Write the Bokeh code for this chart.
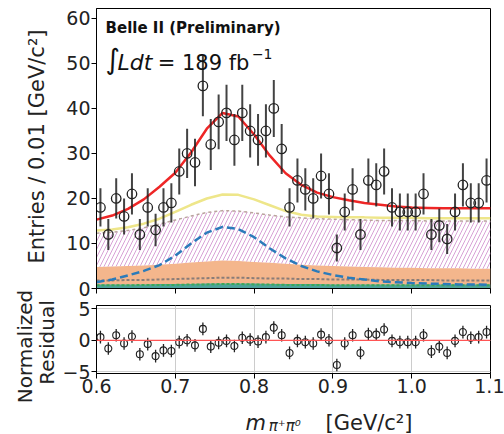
import math
from bokeh.plotting import figure
from bokeh.models import Label, FixedTicker, Range1d, Span
from bokeh.layouts import column, row
from bokeh.embed import file_html
from bokeh.resources import INLINE

# ---------------- data ----------------
mass = [0.605, 0.615, 0.625, 0.635, 0.645, 0.655, 0.665, 0.675, 0.685, 0.695,
        0.705, 0.715, 0.725, 0.735, 0.745, 0.755, 0.765, 0.775, 0.785, 0.795,
        0.805, 0.815, 0.825, 0.835, 0.845, 0.855, 0.865, 0.875, 0.885, 0.895,
        0.905, 0.915, 0.925, 0.935, 0.945, 0.955, 0.965, 0.975, 0.985, 0.995,
        1.005, 1.015, 1.025, 1.035, 1.045, 1.055, 1.065, 1.075, 1.085, 1.095]
counts = [18, 12, 20, 16, 21, 12, 18, 13, 18, 19,
          26, 30, 28, 45, 32, 37, 39, 33, 39, 35,
          33, 35, 40, 31, 18, 24, 22, 20, 25, 21,
          9, 17, 22, 12, 24, 23, 26, 18, 17, 17,
          17, 21, 12, 14, 11, 17, 23, 19, 19, 24]
residuals = [0.5, -1.3, 0.8, -0.5, 0.6, -2.2, -0.6, -2.5, -1.6, -1.7,
             -0.3, 0.0, -0.8, 1.8, -1.0, -0.4, -0.1, -0.9, 0.4, 0.1,
             -0.2, 0.5, 2.0, 0.8, -2.0, -0.1, -0.3, -0.5, 0.9, 0.0,
             -3.9, -0.5, 0.8, -2.0, 1.0, 0.9, 1.7, -0.1, -0.3, -0.3,
             -0.3, 0.8, -1.8, -1.0, -2.0, -0.1, 1.3, 0.4, 0.5, 1.3]

curve_mass = [0.60, 0.62, 0.64, 0.66, 0.68, 0.70, 0.72, 0.74, 0.76, 0.78,
              0.80, 0.82, 0.84, 0.86, 0.88, 0.90, 0.92, 0.94, 0.96, 0.98,
              1.00, 1.02, 1.04, 1.06, 1.08, 1.10]
total_fit = [15.3, 16.2, 17.7, 19.8, 22.6, 25.7, 30.2, 35.5, 39.0, 38.2,
             34.2, 29.5, 25.6, 23.0, 21.3, 20.3, 19.6, 19.0, 18.6, 18.2,
             18.0, 17.9, 17.8, 17.8, 17.8, 17.8]
yellow_comp = [12.9, 13.1, 13.6, 14.4, 15.5, 17.0, 18.6, 20.0, 20.9, 20.8,
               19.8, 18.5, 17.2, 16.4, 16.0, 15.9, 15.8, 15.8, 15.7, 15.7,
               15.7, 15.6, 15.6, 15.6, 15.6, 15.6]
hatch_top = [12.3, 12.5, 12.9, 13.5, 14.3, 15.2, 16.1, 16.9, 17.3, 17.2,
             16.8, 16.3, 15.9, 15.7, 15.5, 15.4, 15.3, 15.2, 15.1, 15.1,
             15.1, 15.0, 15.0, 15.0, 15.0, 15.0]
orange_top = [4.8, 4.9, 5.0, 5.1, 5.3, 5.5, 5.8, 6.0, 6.2, 6.1,
              5.9, 5.7, 5.5, 5.3, 5.1, 5.0, 4.9, 4.8, 4.7, 4.6,
              4.6, 4.5, 4.5, 4.5, 4.4, 4.4]
teal_top = [0.9, 0.9, 0.9, 0.9, 1.0, 1.0, 1.0, 1.1, 1.1, 1.1,
            1.1, 1.0, 1.0, 1.0, 1.0, 0.9, 0.9, 0.9, 0.9, 0.9,
            0.9, 0.9, 0.9, 0.9, 0.9, 0.9]
signal_comp = [1.4, 2.0, 2.9, 3.9, 5.2, 7.3, 10.0, 12.4, 13.7, 13.2,
               11.4, 8.9, 6.7, 5.0, 3.8, 3.0, 2.4, 2.0, 1.6, 1.4,
               1.2, 1.1, 1.0, 0.9, 0.9, 0.8]
gray_comp = [1.8, 1.8, 1.9, 1.9, 2.0, 2.1, 2.2, 2.3, 2.4, 2.4,
             2.3, 2.2, 2.2, 2.1, 2.1, 2.0, 2.0, 2.0, 1.9, 1.9,
             1.9, 1.9, 1.8, 1.8, 1.8, 1.8]
green_comp = [0.7, 0.7, 0.7, 0.8, 0.8, 0.8, 0.9, 0.9, 1.0, 1.0,
              0.9, 0.9, 0.8, 0.8, 0.8, 0.7, 0.7, 0.7, 0.7, 0.7,
              0.7, 0.7, 0.7, 0.7, 0.7, 0.7]

x_ticks = [0.6, 0.7, 0.8, 0.9, 1.0, 1.1]
x_tick_labels = ["0.6", "0.7", "0.8", "0.9", "1.0", "1.1"]
y_ticks = [0, 10, 20, 30, 40, 50, 60]
res_ticks = [-5, 0, 5]
res_tick_labels = ["\u22125", "0", "5"]

err = [math.sqrt(c) for c in counts]
lo = [c - e for c, e in zip(counts, err)]
hi = [c + e for c, e in zip(counts, err)]
rlo = [v - 1 for v in residuals]
rhi = [v + 1 for v in residuals]

FONT = "DejaVu Sans"
TXT = "#222222"
LW = 58                      # width of the left title strip
LEFT, RIGHT, FW = 96 - LW, 14, 394
TOTAL_H = 433
XF_H = 33

# ---------------- main panel ----------------
p = figure(frame_width=FW, frame_height=280, x_range=Range1d(0.6, 1.1), y_range=Range1d(0, 62.2),
           output_backend="svg", toolbar_location=None,
           min_border_left=LEFT, min_border_right=RIGHT, min_border_top=8, min_border_bottom=10)
p.grid.visible = False
p.outline_line_color = "black"
p.outline_line_alpha = 1.0

p.varea(x=curve_mass, y1=0, y2=orange_top, fill_color="#f4b68c")
p.varea(x=curve_mass, y1=0, y2=teal_top, fill_color="#4ea39c")
p.varea(x=curve_mass, y1=orange_top, y2=hatch_top, fill_color=None,
        hatch_pattern="/", hatch_color="#d8a2d6", hatch_scale=8, hatch_weight=1)
p.line(curve_mass, hatch_top, line_color="#b9a49c", line_dash="3 3", line_width=1.5)
p.line(curve_mass, yellow_comp, line_color="#eee68a", line_width=2.5)
p.line(curve_mass, gray_comp, line_color="#8a7d78", line_dash="3 2", line_width=2)
p.line(curve_mass, green_comp, line_color="#3aa858", line_dash="3 2", line_width=2)
p.line(curve_mass, signal_comp, line_color="#2b7bba", line_dash="8 4", line_width=2.5)
p.line(curve_mass, total_fit, line_color="#ee2626", line_width=2.5)

p.segment(x0=mass, y0=lo, x1=mass, y1=hi, line_color="#222222", line_width=2, line_alpha=0.85)
p.scatter(mass, counts, marker="circle", size=9.5, fill_color=None,
          line_color="#222222", line_width=1.3)

p.xaxis.ticker = FixedTicker(ticks=x_ticks)
p.xaxis.major_label_text_font_size = "1px"
p.xaxis.major_label_text_color = None
p.xaxis.major_label_standoff = 0
p.xaxis.major_tick_in = 0
p.xaxis.major_tick_out = 5
p.xaxis.minor_tick_line_color = None

p.yaxis.ticker = FixedTicker(ticks=y_ticks)
p.yaxis.major_tick_in = 0
p.yaxis.major_tick_out = 5
p.yaxis.minor_tick_line_color = None
p.yaxis.major_label_text_font = FONT
p.yaxis.major_label_text_font_size = "19px"
p.yaxis.major_label_text_color = TXT
p.yaxis.major_label_standoff = 1

p.add_layout(Label(x=0.6115, y=57.97, text="Belle II (Preliminary)", text_font=FONT,
                   text_font_size="15px", text_font_style="bold", text_color="#111111",
                   text_baseline="alphabetic"))
p.add_layout(Label(x=0.6115, y=50.9, text="\u222b", text_font=FONT,
                   text_font_size="28px", text_color="#111111", text_baseline="alphabetic"))
p.add_layout(Label(x=0.6267, y=50.2, text="Ldt", text_font=FONT, text_font_style="italic",
                   text_font_size="22px", text_color="#111111", text_baseline="alphabetic"))
p.add_layout(Label(x=0.6776, y=50.2, text="= 189 fb", text_font=FONT,
                   text_font_size="21px", text_color="#111111", text_baseline="alphabetic"))
p.add_layout(Label(x=0.7972, y=52.2, text="\u22121", text_font=FONT,
                   text_font_size="14px", text_color="#111111", text_baseline="alphabetic"))

# ---------------- residual panel ----------------
r = figure(frame_width=FW, frame_height=68, x_range=p.x_range, y_range=Range1d(-5.25, 5.5),
           output_backend="svg", toolbar_location=None,
           min_border_left=LEFT, min_border_right=RIGHT, min_border_top=7, min_border_bottom=27)
r.outline_line_color = "black"
r.outline_line_alpha = 1.0
r.xgrid.ticker = FixedTicker(ticks=x_ticks)
r.ygrid.ticker = FixedTicker(ticks=res_ticks)
r.grid.grid_line_color = "#cccccc"
r.grid.grid_line_width = 1

r.add_layout(Span(location=0, dimension="width", line_color="#ff5555", line_width=1.2))
r.segment(x0=mass, y0=rlo, x1=mass, y1=rhi, line_color="#222222", line_width=1.3)
r.scatter(mass, residuals, marker="circle", size=7, fill_color=None,
          line_color="#222222", line_width=1.1)

r.xaxis.ticker = FixedTicker(ticks=x_ticks)
r.xaxis.major_label_overrides = {t: s for t, s in zip(x_ticks, x_tick_labels)}
r.xaxis.major_tick_in = 0
r.xaxis.major_tick_out = 5
r.xaxis.minor_tick_line_color = None
r.xaxis.major_label_text_font = FONT
r.xaxis.major_label_text_font_size = "19px"
r.xaxis.major_label_text_color = TXT
r.xaxis.major_label_standoff = 0

r.yaxis.ticker = FixedTicker(ticks=res_ticks)
r.yaxis.major_label_overrides = {t: s for t, s in zip(res_ticks, res_tick_labels)}
r.yaxis.major_tick_in = 0
r.yaxis.major_tick_out = 5
r.yaxis.minor_tick_line_color = None
r.yaxis.major_label_text_font = FONT
r.yaxis.major_label_text_font_size = "19px"
r.yaxis.major_label_text_color = TXT
r.yaxis.major_label_standoff = 1

# ---------------- x-axis title strip ----------------
xf = figure(frame_width=FW, frame_height=XF_H, x_range=p.x_range, y_range=Range1d(0, XF_H),
            output_backend="svg", toolbar_location=None, x_axis_type=None, y_axis_type=None,
            min_border_left=LEFT, min_border_right=RIGHT, min_border_top=0, min_border_bottom=0)
xf.outline_line_color = None
xf.grid.visible = False
xf.add_layout(Label(x=0.789, y=11, text="m", text_font=FONT, text_font_style="italic",
                    text_font_size="21px", text_color=TXT, text_baseline="alphabetic"))
xf.add_layout(Label(x=0.8185, y=8, text="\u03c0\u207a\u03c0\u2070", text_font=FONT,
                    text_font_style="italic", text_font_size="15px", text_color=TXT,
                    text_baseline="alphabetic"))
xf.add_layout(Label(x=0.8906, y=11, text="[GeV/c\u00b2]", text_font=FONT,
                    text_font_size="21px", text_color=TXT, text_baseline="alphabetic"))

# ---------------- left title strip (y-axis titles) ----------------
lf = figure(width=LW, height=TOTAL_H, x_range=Range1d(0, LW), y_range=Range1d(0, TOTAL_H),
            output_backend="svg", toolbar_location=None, x_axis_type=None, y_axis_type=None,
            min_border=0)
lf.outline_line_color = None
lf.grid.visible = False
lf.add_layout(Label(x=36, y=TOTAL_H - 146, text="Entries / 0.01 [GeV/c\u00b2]", angle=math.pi / 2,
                    text_font=FONT, text_font_size="21px", text_color=TXT,
                    text_align="center", text_baseline="middle"))
lf.add_layout(Label(x=24, y=TOTAL_H - 346, text="Normalized", angle=math.pi / 2,
                    text_font=FONT, text_font_size="20px", text_color=TXT,
                    text_align="center", text_baseline="middle"))
lf.add_layout(Label(x=46, y=TOTAL_H - 342, text="Residual", angle=math.pi / 2,
                    text_font=FONT, text_font_size="20px", text_color=TXT,
                    text_align="center", text_baseline="middle"))

layout = row(lf, column(p, r, xf, spacing=0), spacing=0)
open("out.html", "w").write(file_html(layout, INLINE))
